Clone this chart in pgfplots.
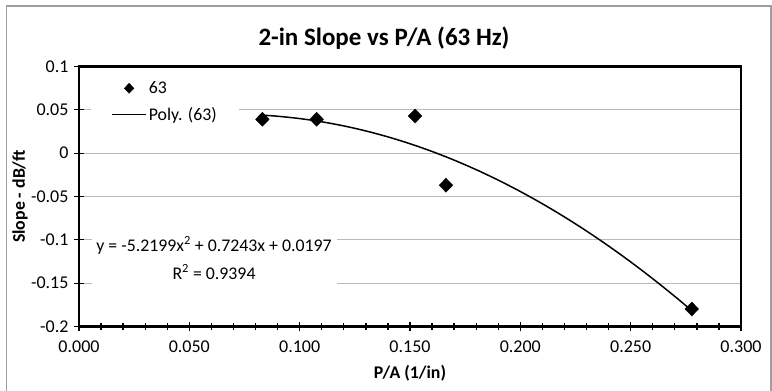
\documentclass[border=0pt]{standalone}
\usepackage{fontspec}
\setmainfont{Carlito}
\usepackage{pgfplots}
\pgfplotsset{compat=1.18}
\pgfplotsset{smalllegend/.style={legend image code/.code={\path[draw=none,fill=none] (0pt,0pt) -- (34pt,0pt); \draw[##1, mark size=5pt] plot coordinates {(17pt,0pt)};}}}
\begin{document}
\begin{tikzpicture}
\useasboundingbox (-79pt,-64.5pt) rectangle (693pt,326.5pt);
\draw[color=black!38, line width=1.5pt] (-72.5pt,-70pt) -- (-72.5pt,320.5pt) -- (692pt,320.5pt) -- (692pt,-70pt);
\begin{axis}[
  at={(0pt,0pt)}, anchor=south west,
  scale only axis, width=662pt, height=260pt,
  xmin=0, xmax=0.3, ymin=-0.2, ymax=0.1,
  xtick={0,0.05,0.1,0.15,0.2,0.25,0.3},
  xticklabels={0.000,0.050,0.100,0.150,0.200,0.250,0.300},
  ytick={-0.2,-0.15,-0.1,-0.05,0,0.05,0.1},
  yticklabels={-0.2,-0.15,-0.1,-0.05,0,0.05,0.1},
  minor x tick num=4,
  xtick pos=bottom, ytick pos=left,
  tick align=center, major tick length=10pt, minor tick length=8pt,
  tick style={black, line width=1.3pt},
  axis line style={line width=2.8pt, black},
  ymajorgrids, grid style={color=black!27, line width=1.3pt},
  tick label style={font=\fontsize{18}{21}\selectfont},
  xticklabel style={yshift=-6pt},
  yticklabel style={xshift=-2pt},
  title={2-in Slope vs P/A (63 Hz)},
  title style={font=\bfseries\fontsize{25}{30}\selectfont, at={(axis description cs:0.4607,1.058)}, anchor=base},
  xlabel={P/A (1/in)},
  xlabel style={font=\bfseries\fontsize{17.8}{21}\selectfont, at={(axis description cs:0.5,-0.178)}, anchor=center},
  ylabel={Slope - dB/ft},
  ylabel style={font=\bfseries\fontsize{17.8}{21}\selectfont, at={(axis description cs:-0.0891,0.5)}, anchor=center, rotate=0},
  legend style={at={(axis description cs:0.13,0.865)}, anchor=center, draw=none, fill=white,
    font=\fontsize{17.8}{21}\selectfont, inner xsep=20pt, inner ysep=3pt, row sep=8pt,
    cells={anchor=west}},
  legend image code/.code={\draw[mark repeat=2,mark phase=2,#1] plot coordinates {(0pt,0pt) (17pt,0pt) (34pt,0pt)};},
]
\addplot[only marks, mark=diamond*, mark size=7pt, mark options={fill=black, draw=black, xscale=1.3}, color=black, smalllegend]
  coordinates {(0.0831,0.0391) (0.1077,0.0391) (0.1523,0.0429) (0.1663,-0.0370) (0.2777,-0.1798)};
\addlegendentry{63}
\addplot[black, line width=1.5pt, smooth, no marks]
  coordinates {
  (0.0831,0.04384) (0.09,0.04261) (0.10,0.03993) (0.11,0.03621) (0.12,0.03145)
  (0.13,0.02564) (0.14,0.01879) (0.15,0.01090) (0.16,0.00196) (0.17,-0.00802)
  (0.18,-0.01905) (0.19,-0.03112) (0.20,-0.04424) (0.21,-0.05840) (0.22,-0.07360)
  (0.23,-0.08984) (0.24,-0.10713) (0.25,-0.12547) (0.26,-0.14485) (0.27,-0.16527)
  (0.2777,-0.18171)};
\addlegendentry{Poly. (63)}
\node[fill=white, align=center, minimum width=245pt, minimum height=58pt, inner sep=0pt,
  font=\fontsize{17.8}{28}\selectfont] at (axis cs:0.0612,-0.1209)
  {y = -5.2199x\textsuperscript{2} + 0.7243x + 0.0197\\R\textsuperscript{2} = 0.9394};
\end{axis}
\end{tikzpicture}
\end{document}
